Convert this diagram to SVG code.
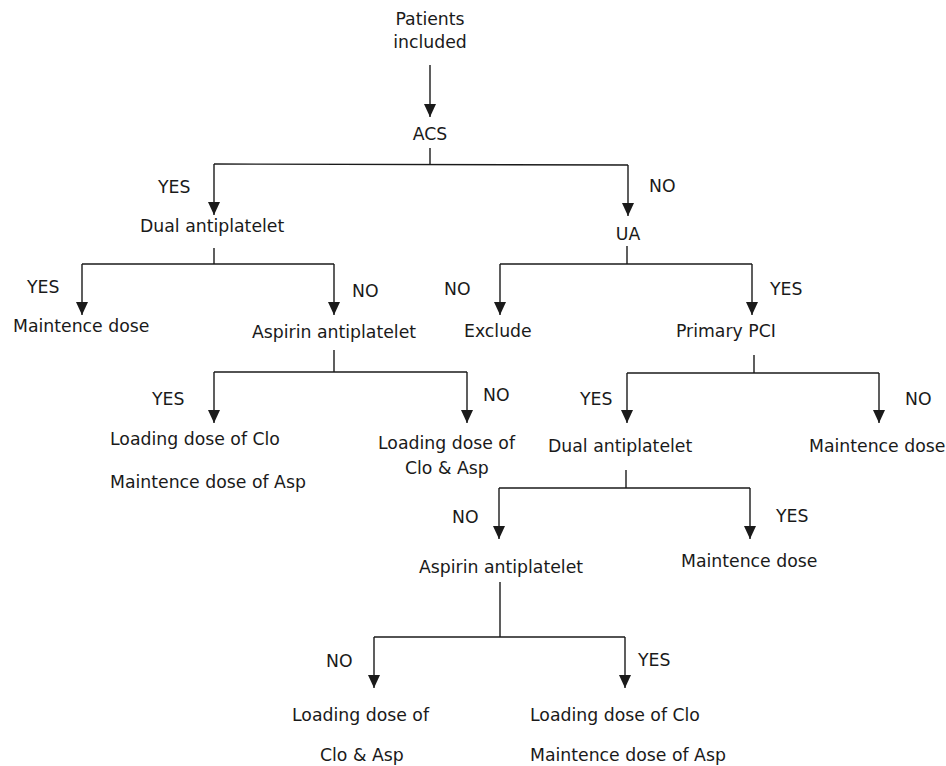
<svg xmlns="http://www.w3.org/2000/svg" width="946" height="766" viewBox="0 0 946 766">
<style>
text{font-family:"DejaVu Sans",Verdana,sans-serif;font-size:17.3px;fill:#1a1a1a}
.c{text-anchor:middle}
.l{fill:none;stroke:#1a1a1a;stroke-width:1.4}
</style>
<defs>
<marker id="ah" markerUnits="userSpaceOnUse" markerWidth="14" markerHeight="12" refX="13" refY="6" orient="auto" viewBox="0 0 14 12">
<path d="M0,0 L13,6 L0,12 Z" fill="#1a1a1a"/>
</marker>
</defs>
<rect width="946" height="766" fill="#fff"/>
<g id="connectors">
<line class="l" x1="430" y1="65" x2="430" y2="117" marker-end="url(#ah)"/>
<polyline class="l" points="430,148 430,164"/>
<polyline class="l" points="214,164 628,165"/>
<line class="l" x1="214" y1="164" x2="214" y2="215" marker-end="url(#ah)"/>
<line class="l" x1="628" y1="165" x2="628" y2="216" marker-end="url(#ah)"/>
<polyline class="l" points="214,248 214,264"/>
<polyline class="l" points="82,264 334,264"/>
<line class="l" x1="82" y1="264" x2="82" y2="315" marker-end="url(#ah)"/>
<line class="l" x1="334" y1="264" x2="334" y2="315" marker-end="url(#ah)"/>
<polyline class="l" points="627,246 627,264"/>
<polyline class="l" points="500,264 752,264"/>
<line class="l" x1="500" y1="264" x2="500" y2="315" marker-end="url(#ah)"/>
<line class="l" x1="752" y1="264" x2="752" y2="315" marker-end="url(#ah)"/>
<polyline class="l" points="334,350 334,372"/>
<polyline class="l" points="214,372 467,372"/>
<line class="l" x1="214" y1="372" x2="214" y2="423" marker-end="url(#ah)"/>
<line class="l" x1="467" y1="372" x2="467" y2="423" marker-end="url(#ah)"/>
<polyline class="l" points="754,355 754,373"/>
<polyline class="l" points="627,373 879,373"/>
<line class="l" x1="627" y1="373" x2="627" y2="423" marker-end="url(#ah)"/>
<line class="l" x1="879" y1="373" x2="879" y2="423" marker-end="url(#ah)"/>
<polyline class="l" points="626,470 626,488"/>
<polyline class="l" points="499,488 750,488"/>
<line class="l" x1="499" y1="488" x2="499" y2="539" marker-end="url(#ah)"/>
<line class="l" x1="750" y1="488" x2="750" y2="539" marker-end="url(#ah)"/>
<polyline class="l" points="500,582 500,637"/>
<polyline class="l" points="374,637 625,637"/>
<line class="l" x1="374" y1="637" x2="374" y2="688" marker-end="url(#ah)"/>
<line class="l" x1="625" y1="637" x2="625" y2="688" marker-end="url(#ah)"/>
</g>
<g id="labels">
<text x="158" y="193">YES</text>
<text x="649" y="192">NO</text>
<text x="27" y="293">YES</text>
<text x="352" y="297">NO</text>
<text x="444" y="295">NO</text>
<text x="770" y="295">YES</text>
<text x="152" y="405">YES</text>
<text x="483" y="401">NO</text>
<text x="580" y="405">YES</text>
<text x="905" y="405">NO</text>
<text x="452" y="523">NO</text>
<text x="776" y="522">YES</text>
<text x="326" y="667">NO</text>
<text x="638" y="666">YES</text>
</g>
<g id="n-patients"><text class="c" x="430" y="25">Patients</text><text class="c" x="430" y="48">included</text></g>
<g id="n-acs"><text class="c" x="430" y="140">ACS</text></g>
<g id="n-dual1"><text x="140" y="232">Dual antiplatelet</text></g>
<g id="n-ua"><text class="c" x="628" y="240">UA</text></g>
<g id="n-maint1"><text x="13" y="332">Maintence dose</text></g>
<g id="n-asp1"><text x="252" y="338">Aspirin antiplatelet</text></g>
<g id="n-exclude"><text x="464" y="337">Exclude</text></g>
<g id="n-pci"><text x="676" y="337">Primary PCI</text></g>
<g id="n-load1"><text x="110" y="445">Loading dose of Clo</text><text x="110" y="488">Maintence dose of Asp</text></g>
<g id="n-load2"><text x="378" y="449">Loading dose of</text><text x="405" y="474">Clo &amp; Asp</text></g>
<g id="n-dual2"><text x="548" y="452">Dual antiplatelet</text></g>
<g id="n-maint2"><text x="809" y="452">Maintence dose</text></g>
<g id="n-asp2"><text x="419" y="573">Aspirin antiplatelet</text></g>
<g id="n-maint3"><text x="681" y="567">Maintence dose</text></g>
<g id="n-load3"><text x="292" y="721">Loading dose of</text><text x="320" y="761">Clo &amp; Asp</text></g>
<g id="n-load4"><text x="530" y="721">Loading dose of Clo</text><text x="530" y="761">Maintence dose of Asp</text></g>
</svg>
